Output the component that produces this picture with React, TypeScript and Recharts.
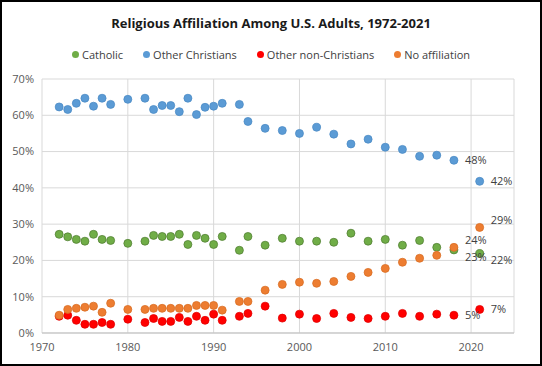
import { ScatterChart, Scatter, XAxis, YAxis, CartesianGrid, LabelList } from "recharts";

const YEARS = [
  1972, 1973, 1974, 1975, 1976, 1977, 1978, 1980, 1982, 1983, 1984, 1985, 1986, 1987, 1988, 1989, 1990,
  1991, 1993, 1994, 1996, 1998, 2000, 2002, 2004, 2006, 2008, 2010, 2012, 2014, 2016, 2018, 2021,
];

const CATHOLIC = [
  27.2, 26.5, 25.8, 25.3, 27.2, 25.8, 25.5, 24.7, 25.3, 26.9, 26.6, 26.6, 27.2, 24.4, 26.9, 26.1, 24.4,
  26.6, 22.8, 26.6, 24.2, 26.1, 25.3, 25.3, 25.0, 27.5, 25.3, 25.8, 24.2, 25.5, 23.6, 22.9, 21.9,
];
const OTHER_CHRISTIANS = [
  62.3, 61.6, 63.3, 64.7, 62.5, 64.7, 63.0, 64.4, 64.7, 61.6, 62.7, 62.7, 61.0, 64.7, 60.2, 62.2, 62.5,
  63.3, 63.0, 58.3, 56.4, 55.8, 55.0, 56.7, 54.8, 52.1, 53.4, 51.2, 50.6, 48.7, 49.0, 47.6, 41.8,
];
const OTHER_NON_CHRISTIANS = [
  4.6, 4.9, 3.5, 2.4, 2.4, 2.9, 2.4, 3.8, 2.9, 4.0, 3.2, 3.2, 4.3, 3.2, 4.6, 3.5, 5.2,
  3.5, 4.6, 5.4, 7.4, 4.1, 5.2, 4.0, 5.4, 4.3, 4.0, 4.6, 5.4, 4.6, 5.2, 4.9, 6.5,
];
const NO_AFFILIATION = [
  4.9, 6.5, 6.8, 7.1, 7.4, 5.7, 8.2, 6.5, 6.5, 6.8, 6.8, 6.8, 6.8, 6.8, 7.6, 7.6, 7.6,
  6.3, 8.7, 8.7, 11.8, 13.4, 14.0, 13.7, 14.2, 15.6, 16.7, 17.8, 19.5, 20.6, 21.4, 23.6, 29.1,
];

const X_TICKS = [1970, 1980, 1990, 2000, 2010, 2020];
const Y_TICKS = [0, 10, 20, 30, 40, 50, 60, 70];

const FONT = "'Open Sans', sans-serif";

// only the last two years get a value label
const toPoints = (values: number[]) =>
  YEARS.map((year, i) => ({
    year,
    value: values[i],
    label: i >= YEARS.length - 2 ? `${Math.round(values[i])}%` : "",
  }));

const SERIES = [
  { name: "Catholic", values: CATHOLIC, fill: "#70ad47", stroke: "#507e32", nudge: 7 },
  { name: "Other Christians", values: OTHER_CHRISTIANS, fill: "#5b9bd5", stroke: "#4a8ac4", nudge: 0 },
  { name: "Other non-Christians", values: OTHER_NON_CHRISTIANS, fill: "#ff0000", stroke: "#e00000", nudge: 0 },
  { name: "No affiliation", values: NO_AFFILIATION, fill: "#ed7d31", stroke: "#d86c22", nudge: -7 },
];

const makeLabel = (nudge: number) => (props: any) => {
  const { x, y, width, height, value } = props;
  if (!value) return null;
  const cx = x + (width || 0) / 2;
  const cy = y + (height || 0) / 2;
  return (
    <text x={cx + 11} y={cy + nudge} dy="0.35em" fontSize={11} fill="#404040" fontFamily={FONT}>
      {value}
    </text>
  );
};

export default function App() {
  return (
    <div
      style={{
        position: "absolute",
        left: 0,
        top: 0,
        width: 542,
        height: 366,
        boxSizing: "border-box",
        border: "2px solid #000",
        background: "#fff",
        fontFamily: FONT,
      }}
    >
      <div
        style={{
          position: "absolute",
          top: 12,
          left: 0,
          width: 538,
          textAlign: "center",
          fontWeight: 700,
          fontSize: 13,
          color: "#1a1a1a",
        }}
      >
        Religious Affiliation Among U.S. Adults, 1972-2021
      </div>
      <div
        style={{
          position: "absolute",
          top: 45,
          left: 0,
          width: 538,
          display: "flex",
          justifyContent: "center",
          gap: 20,
          fontSize: 11,
          color: "#404040",
        }}
      >
        {SERIES.map((s) => (
          <span key={s.name} style={{ display: "flex", alignItems: "center" }}>
            <span
              style={{
                width: 7,
                height: 7,
                borderRadius: "50%",
                background: s.fill,
                marginRight: 3,
                display: "inline-block",
              }}
            />
            {s.name}
          </span>
        ))}
      </div>
      <div style={{ position: "absolute", left: -2, top: -2 }}>
        <ScatterChart width={542} height={366} margin={{ top: 79, right: 28, bottom: 8, left: 0 }}>
          <CartesianGrid stroke="#d9d9d9" />
          <XAxis
            type="number"
            dataKey="year"
            domain={[1970, 2025]}
            ticks={X_TICKS}
            height={25}
            tickLine={false}
            axisLine={{ stroke: "#bfbfbf" }}
            tickMargin={4}
            tick={{ fontSize: 11, fill: "#595959", fontFamily: FONT }}
          />
          <YAxis
            type="number"
            dataKey="value"
            domain={[0, 70]}
            ticks={Y_TICKS}
            width={42}
            axisLine={false}
            tickLine={false}
            tickFormatter={(v) => `${v}%`}
            tick={{ fontSize: 11, fill: "#595959", fontFamily: FONT }}
          />
          {SERIES.map((s) => (
            <Scatter
              key={s.name}
              name={s.name}
              data={toPoints(s.values)}
              isAnimationActive={false}
              shape={(p: any) => <circle cx={p.cx} cy={p.cy} r={4} fill={s.fill} stroke={s.stroke} strokeWidth={0.75} />}
            >
              <LabelList dataKey="label" content={makeLabel(s.nudge)} />
            </Scatter>
          ))}
        </ScatterChart>
      </div>
    </div>
  );
}
